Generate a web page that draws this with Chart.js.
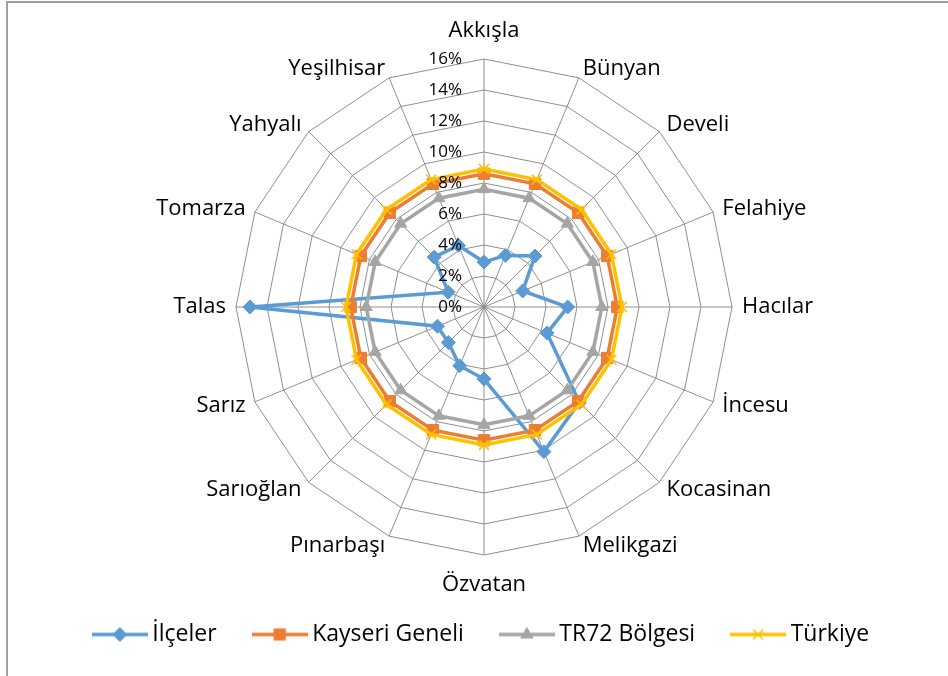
<!DOCTYPE html>
<html lang="tr">
<head>
    <meta charset="UTF-8">
    <title>İlçeler radar</title>
    <script src="https://cdn.jsdelivr.net/npm/chart.js"></script>
    <style>
        body { margin: 0; background: #fff; }
        #wrap { position: relative; width: 948px; height: 676px; }
    </style>
</head>
<body>
    <div id="wrap"><canvas id="radar" width="948" height="676"></canvas></div>

    <script>
        // categories and series (percent)
        const districts = ['Akkışla', 'Bünyan', 'Develi', 'Felahiye', 'Hacılar', 'İncesu', 'Kocasinan', 'Melikgazi',
            'Özvatan', 'Pınarbaşı', 'Sarıoğlan', 'Sarız', 'Talas', 'Tomarza', 'Yahyalı', 'Yeşilhisar'];
        const ilceler = [2.9, 3.6, 4.65, 2.7, 5.4, 4.4, 8.7, 10.1, 4.65, 4.1, 3.25, 3.25, 15.1, 2.5, 4.55, 4.3];
        const kayseri = [8.6, 8.6, 8.6, 8.6, 8.6, 8.6, 8.6, 8.6, 8.6, 8.6, 8.6, 8.6, 8.6, 8.6, 8.6, 8.6];
        const tr72 = [7.6, 7.6, 7.6, 7.6, 7.6, 7.6, 7.6, 7.6, 7.6, 7.6, 7.6, 7.6, 7.6, 7.6, 7.6, 7.6];
        const turkiye = [8.9, 8.9, 8.9, 8.9, 8.9, 8.9, 8.9, 8.9, 8.9, 8.9, 8.9, 8.9, 8.9, 8.9, 8.9, 8.9];
        const tickValues = [0, 2, 4, 6, 8, 10, 12, 14, 16];

        const FONT = '"Open Sans", "Noto Sans", sans-serif';

        function series(label, data, color, style, radius, order) {
            return {
                label: label,
                data: data,
                borderColor: color,
                backgroundColor: color,
                borderWidth: 3.5,
                fill: false,
                pointStyle: style,
                pointRadius: radius,
                pointBorderWidth: style === 'crossRot' ? 1.5 : 1,
                pointBackgroundColor: color,
                pointBorderColor: color,
                order: order
            };
        }

        // legend swatch: short line with the marker in the middle
        function swatch(ds) {
            const c = document.createElement('canvas');
            c.width = 56; c.height = 18;
            const g = c.getContext('2d');
            g.strokeStyle = ds.borderColor;
            g.lineWidth = 3.5;
            g.beginPath(); g.moveTo(0, 9); g.lineTo(56, 9); g.stroke();
            g.fillStyle = ds.borderColor;
            g.lineWidth = ds.pointBorderWidth;
            Chart.helpers.drawPoint(g, { pointStyle: ds.pointStyle, radius: ds.pointRadius, rotation: 0, borderWidth: ds.pointBorderWidth }, 28, 9);
            return c;
        }

        // border, tick labels left of the vertical axis, category labels
        const frame = {
            id: 'frame',
            beforeDraw(chart) {
                const ctx = chart.ctx;
                ctx.save();
                ctx.fillStyle = '#fff';
                ctx.fillRect(0, 0, chart.width, chart.height);
                ctx.strokeStyle = '#a0a0a0';
                ctx.lineWidth = 2;
                ctx.strokeRect(7, 2, chart.width + 10, chart.height + 10);
                ctx.restore();
            },
            afterDatasetsDraw(chart) {
                const r = chart.scales.r;
                const ctx = chart.ctx;
                ctx.save();
                ctx.fillStyle = '#000';
                ctx.textBaseline = 'middle';

                ctx.font = '17px ' + FONT;
                ctx.textAlign = 'right';
                r.ticks.forEach(t => {
                    const d = r.getDistanceFromCenterForValue(t.value);
                    ctx.fillText(t.value + '%', r.xCenter - 22, r.yCenter - d);
                });

                ctx.font = '22px ' + FONT;
                const n = districts.length;
                districts.forEach((name, i) => {
                    const p = r.getPointPosition(i, r.drawingArea + 10);
                    let y = p.y;
                    if (i === 0) { ctx.textAlign = 'center'; y -= 18; }
                    else if (i === n / 2) { ctx.textAlign = 'center'; y += 20; }
                    else ctx.textAlign = i < n / 2 ? 'left' : 'right';
                    ctx.fillText(name, p.x, y);
                });
                ctx.restore();
            }
        };

        const datasets = [
            series('İlçeler', ilceler, '#5B9BD5', 'rectRot', 7, 4),
            series('Kayseri Geneli', kayseri, '#ED7D31', 'rect', 8, 3),
            series('TR72 Bölgesi', tr72, '#A5A5A5', 'triangle', 7, 2),
            series('Türkiye', turkiye, '#FFC000', 'crossRot', 7, 1)
        ];

        new Chart(document.getElementById('radar'), {
            type: 'radar',
            data: { labels: districts, datasets: datasets },
            plugins: [frame],
            options: {
                responsive: false,
                animation: false,
                layout: { padding: { top: 34, bottom: 20, left: 20, right: 0 } },
                scales: {
                    r: {
                        min: 0,
                        max: 16,
                        afterBuildTicks(scale) {
                            scale.ticks = tickValues.map(v => ({ value: v }));
                        },
                        ticks: { display: false, stepSize: 2 },
                        grid: { color: '#8f8f8f', lineWidth: 1 },
                        angleLines: { color: '#8f8f8f', lineWidth: 1 },
                        // kept for the layout fit; the visible labels are drawn by the plugin
                        pointLabels: {
                            color: 'rgba(0,0,0,0)',
                            font: { family: 'Lato', size: 20 },
                            padding: 1
                        }
                    }
                },
                plugins: {
                    tooltip: { enabled: false },
                    legend: {
                        position: 'bottom',
                        labels: {
                            color: '#000',
                            font: { family: FONT, size: 23 },
                            usePointStyle: true,
                            pointStyleWidth: 42,
                            padding: 42,
                            sort: (a, b) => a.datasetIndex - b.datasetIndex,
                            generateLabels(chart) {
                                const items = Chart.defaults.plugins.legend.labels.generateLabels(chart);
                                items.forEach(it => {
                                    it.pointStyle = swatch(chart.data.datasets[it.datasetIndex]);
                                });
                                return items;
                            }
                        }
                    }
                }
            }
        });
    </script>
</body>
</html>
